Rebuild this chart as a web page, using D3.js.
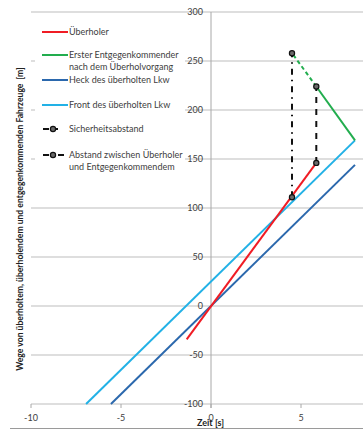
<!DOCTYPE html>
<html><head><meta charset="utf-8">
<script src="https://cdn.jsdelivr.net/npm/d3@7"></script>
<style>
html,body{margin:0;padding:0;background:#fff;}
svg{display:block;}
text{font-family:Lato,"Open Sans",sans-serif;fill:#404040;}
</style></head>
<body>
<svg id="c" width="363" height="430"></svg>
<script>
// ---- data ----
const xTicks = [-10, -5, 0, 5];
const yTicks = [-100, -50, 0, 50, 100, 150, 200, 250, 300];
const redT = [-1.35, 5.85], redY = [-34, 146];              // Überholer
const darkT = [-5.56, 8], darkY = [-100, 144];              // Heck des überholten Lkw
const lightT = [-6.94, 8], lightY = [-100, 169];            // Front des überholten Lkw
const greenT = [8, 5.85], greenY = [169, 224];              // Erster Entgegenkommender (solid)
const greenDashT = [5.85, 4.5], greenDashY = [224, 258];    // (dashed part)
const safeT = [4.5, 4.5], safeY = [111, 258];               // Sicherheitsabstand
const gapT = [5.85, 5.85], gapY = [146, 224];               // Abstand Überholer–Entgegenkommender
const legendLabels = [
  ["Überholer"],
  ["Erster Entgegenkommender", "nach dem Überholvorgang"],
  ["Heck des überholten Lkw"],
  ["Front des überholten Lkw"],
  ["Sicherheitsabstand"],
  ["Abstand zwischen Überholer", "und Entgegenkommendem"]
];
const colors = {red:"#f01c24", green:"#22ad4e", dark:"#2b68ad", light:"#22b1e6", black:"#111"};

const svg = d3.select("#c");
const x = d3.scaleLinear().domain([-10, 10]).range([31, 391]);
const y = d3.scaleLinear().domain([-100, 300]).range([404, 12]);

// gridlines
svg.append("g").selectAll("line").data(yTicks).join("line")
  .attr("x1", x(-10)).attr("x2", 363)
  .attr("y1", d => y(d)).attr("y2", d => y(d))
  .attr("stroke", "#bdbdbd").attr("stroke-width", 1);

// y axis line at x=0
svg.append("line").attr("x1", x(0)).attr("x2", x(0)).attr("y1", y(300)).attr("y2", y(-100) + 4)
  .attr("stroke", "#a8a8a8");
// x ticks
svg.append("g").selectAll("line").data(xTicks).join("line")
  .attr("x1", d => x(d)).attr("x2", d => x(d)).attr("y1", y(-100)).attr("y2", y(-100) + 4)
  .attr("stroke", "#a8a8a8");

// y tick labels
svg.append("g").selectAll("text").data(yTicks).join("text")
  .attr("x", x(0) - 8).attr("y", d => y(d)).attr("dy", "0.35em")
  .attr("text-anchor", "end").attr("font-size", 9).text(d => d);
// x tick labels
svg.append("g").selectAll("text").data(xTicks).join("text")
  .attr("x", d => x(d)).attr("y", 421)
  .attr("text-anchor", "middle").attr("font-size", 9).text(d => d);

// axis titles
svg.append("text").attr("x", 197).attr("y", 426).attr("font-size", 9).attr("font-weight", "bold")
  .style("fill", "#222").text("Zeit [s]");
svg.append("text").attr("transform", "translate(23,219) rotate(-90)")
  .attr("text-anchor", "middle").attr("font-size", 8.6).attr("font-weight", "bold")
  .style("fill", "#222").attr("xml:space", "preserve")
  .text("Wege von überholtem, überholendem und entgegenkommenden Fahrzeuge  [m]");

// bottom border line
svg.append("line").attr("x1", 10).attr("x2", 363).attr("y1", 428.5).attr("y2", 428.5)
  .attr("stroke", "#9a9a9a");

// series
const line = d3.line().x(d => x(d[0])).y(d => y(d[1]));
function draw(T, Y, col, dash, w) {
  const pts = T.map((t, i) => [t, Y[i]]);
  svg.append("path").attr("d", line(pts)).attr("fill", "none")
    .attr("stroke", col).attr("stroke-width", w || 2)
    .attr("stroke-dasharray", dash || null);
}
draw(lightT, lightY, colors.light);
draw(darkT, darkY, colors.dark);
draw(greenT, greenY, colors.green);
draw(greenDashT, greenDashY, colors.green, "4,3");
draw(redT, redY, colors.red);
draw(safeT, safeY, colors.black, "6,5,1.5,5");
draw(gapT, gapY, colors.black, "6,6");

// markers
const marks = [[safeT[0], safeY[0]], [safeT[1], safeY[1]], [gapT[0], gapY[0]], [gapT[1], gapY[1]]];
svg.append("g").selectAll("circle").data(marks).join("circle")
  .attr("cx", d => x(d[0])).attr("cy", d => y(d[1])).attr("r", 2.6)
  .attr("fill", "#6a6a6a").attr("stroke", "#111").attr("stroke-width", 1.2);

// legend
const lg = svg.append("g");
lg.append("rect").attr("x", 35).attr("y", 19).attr("width", 150).attr("height", 178).attr("fill", "#fff");
const rowsY = [32, 55, 80, 105, 129, 155];
const lcol = [colors.red, colors.green, colors.dark, colors.light];
legendLabels.forEach((lab, i) => {
  const yy = rowsY[i];
  if (i < 4) {
    lg.append("line").attr("x1", 42).attr("x2", 68).attr("y1", yy).attr("y2", yy)
      .attr("stroke", lcol[i]).attr("stroke-width", 2);
  } else if (i === 4) {
    lg.append("line").attr("x1", 43).attr("x2", 49).attr("y1", yy).attr("y2", yy).attr("stroke", "#111").attr("stroke-width", 2);
    lg.append("line").attr("x1", 55).attr("x2", 58).attr("y1", yy).attr("y2", yy).attr("stroke", "#111").attr("stroke-width", 2);
    lg.append("circle").attr("cx", 53).attr("cy", yy).attr("r", 2.6).attr("fill", "#6a6a6a").attr("stroke", "#111").attr("stroke-width", 1.2);
  } else {
    lg.append("line").attr("x1", 43).attr("x2", 49).attr("y1", yy).attr("y2", yy).attr("stroke", "#111").attr("stroke-width", 2);
    lg.append("line").attr("x1", 58).attr("x2", 64).attr("y1", yy).attr("y2", yy).attr("stroke", "#111").attr("stroke-width", 2);
    lg.append("circle").attr("cx", 53).attr("cy", yy).attr("r", 2.6).attr("fill", "#6a6a6a").attr("stroke", "#111").attr("stroke-width", 1.2);
  }
  lab.forEach((s, j) => {
    lg.append("text").attr("x", 69).attr("y", yy + j * 11.5).attr("dy", "0.35em")
      .attr("font-size", 9).text(s);
  });
});
</script>
</body></html>
